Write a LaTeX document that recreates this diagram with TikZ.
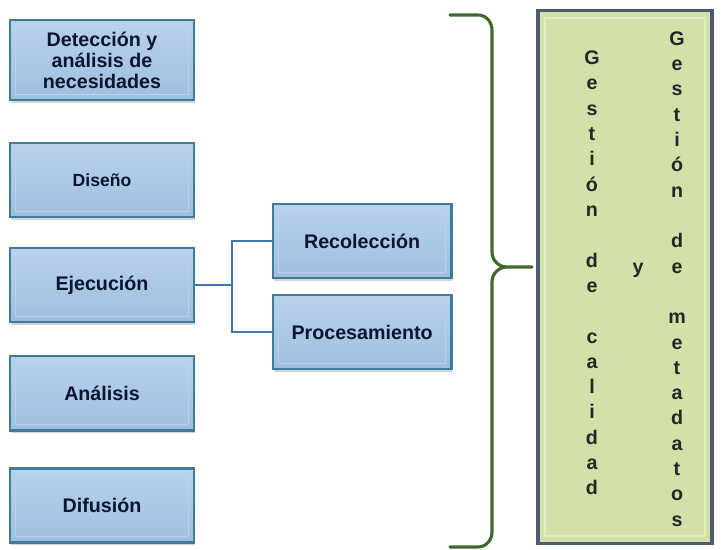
\documentclass[tikz,border=0pt]{standalone}
\usepackage{fontspec}
\setmainfont{Liberation Sans}
\usepackage{tikz}
\usetikzlibrary{shadows}
\usetikzlibrary{positioning}
\definecolor{azulcaja}{HTML}{9EBEE0}
\definecolor{azulclaro}{HTML}{B9D2EC}
\definecolor{azulborde}{HTML}{3F7C9C}
\definecolor{azultexto}{HTML}{0B1630}
\definecolor{azullinea}{HTML}{4475A8}
\definecolor{verdecaja}{HTML}{D3E0A8}
\definecolor{verdeclaro}{HTML}{E3ECC4}
\definecolor{verdeborde}{HTML}{4C5A72}
\definecolor{verdellave}{HTML}{3E6B2C}

\begin{document}
\begin{tikzpicture} [x=0.025cm, y=-0.025cm, on grid, semithick,
  fase/.style ={rectangle, draw=azulborde, line width=2pt, top color=azulclaro, bottom color=azulcaja,
    minimum width=4.6cm, minimum height=1.85cm, align=center, text=azultexto,
    font=\fontsize{14}{15}\selectfont\bfseries,
    drop shadow={shadow xshift=0.6pt, shadow yshift=-2.2pt, opacity=0.35},
    path picture={\draw[azulclaro, line width=0.8pt] ([shift={(4pt,-4pt)}]path picture bounding box.north west) rectangle ([shift={(-4pt,4pt)}]path picture bounding box.south east);}},
  marco/.style ={rectangle, draw=verdeborde, line width=2.2pt, fill=verdecaja,
    minimum width=4.35cm, minimum height=13.3cm,
    drop shadow={shadow xshift=1pt, shadow yshift=-1.5pt, opacity=0.3},
    path picture={\draw[verdeclaro, line width=1.2pt] ([shift={(5pt,-5pt)}]path picture bounding box.north west) rectangle ([shift={(-5pt,5pt)}]path picture bounding box.south east);}},
  letras/.style ={align=center, text=black!85, font=\fontsize{14}{18}\selectfont\bfseries},
  enlace/.style ={draw=azullinea, line width=1.4pt},
  llave/.style ={draw=verdellave, line width=2.2pt, line cap=round}]
\useasboundingbox (0,0) rectangle (721,550);
\node[fase, minimum height=2cm] (det) at (102,60) {Detección y\\análisis de\\necesidades};
\node[fase, font=\fontsize{12.5}{14}\selectfont\bfseries] (dis) [below=3cm of det] {Diseño};
\node[fase] (eje) [below=2.625cm of dis] {Ejecución};
\node[fase] (ana) [below=2.7cm of eje] {Análisis};
\node[fase] (dif) [below=2.8cm of ana] {Difusión};
\node[fase, minimum width=4.45cm] (rec) [above right=1.1cm and 6.5cm of eje] {Recolección};
\node[fase, minimum width=4.45cm] (pro) [below=2.275cm of rec] {Procesamiento};
\coordinate[right=3.25cm of eje] (junta);
\draw[enlace] (eje.east) -- (junta) |- (rec.west);
\draw[enlace] (junta) |- (pro.west);
\node[marco] (gest) at (625,277) {};
\node[letras] (cal) [above left=0.1cm and 0.825cm of gest] {G\\e\\s\\t\\i\\ó\\n\\\mbox{}\\d\\e\\\mbox{}\\c\\a\\l\\i\\d\\a\\d};
\node[letras] (meta) [below right=0.05cm and 1.3cm of gest] {G\\e\\s\\t\\i\\ó\\n\\\mbox{}\\d\\e\\\mbox{}\\m\\e\\t\\a\\d\\a\\t\\o\\s};
\node[letras] (y) [above right=0.175cm and 0.325cm of gest] {y};
\coordinate (punta) at (532,267);
\draw[llave] (450,15) -- (478,15) to[out=0,in=90] (492,30) -- (492,252) to[out=-90,in=180] (507,267) -- (punta)
  (punta) -- (507,267) to[out=180,in=90] (492,282) -- (492,532) to[out=-90,in=0] (478,547) -- (450,547);
\end{tikzpicture}
\end{document}
